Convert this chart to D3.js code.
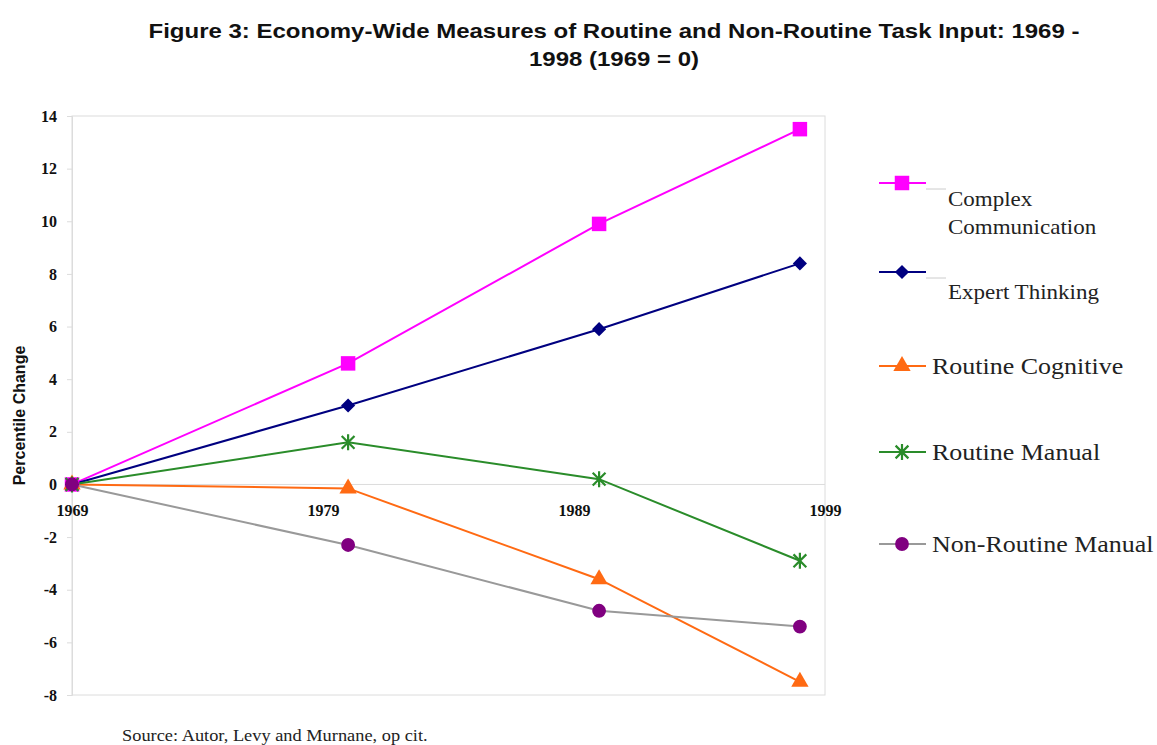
<!DOCTYPE html>
<html>
<head>
<meta charset="utf-8">
<script src="https://cdn.jsdelivr.net/npm/d3@7"></script>
<style>
  html, body { margin: 0; padding: 0; background: #fff; }
  svg { display: block; }
</style>
</head>
<body>
<svg id="chart" width="1157" height="745"></svg>
<script>
// ---- data ----
const years = [1969, 1980, 1990, 1998];
const xTickYears = [1969, 1979, 1989, 1999];
const yTicks = [-8, -6, -4, -2, 0, 2, 4, 6, 8, 10, 12, 14];
const seriesNames = ["Complex Communication", "Expert Thinking", "Routine Cognitive", "Routine Manual", "Non-Routine Manual"];
const complexCommunication = [0, 4.6, 9.9, 13.5];
const expertThinking = [0, 3.0, 5.9, 8.4];
const routineCognitive = [0, -0.15, -3.6, -7.5];
const routineManual = [0, 1.6, 0.2, -2.9];
const nonRoutineManual = [0, -2.3, -4.8, -5.4];
const titleLines = ["Figure 3: Economy-Wide Measures of Routine and Non-Routine Task Input: 1969 -", "1998 (1969 = 0)"];
const yTitle = "Percentile Change";
const sourceText = "Source: Autor, Levy and Murnane, op cit.";

const seriesValues = [complexCommunication, expertThinking, routineCognitive, routineManual, nonRoutineManual];

// Excel-style star marker: X plus vertical bar
const symbolStar = {
  draw(ctx, size) {
    const r = Math.sqrt(size) / 2;
    const d = r * 0.8;
    ctx.moveTo(0, -r); ctx.lineTo(0, r);
    ctx.moveTo(-d, -d); ctx.lineTo(d, d);
    ctx.moveTo(-d, d); ctx.lineTo(d, -d);
  }
};

const styles = [
  { line: "#ff00ff", fill: "#ff00ff", sym: d3.symbolSquare, size: 210, stroke: false, rot: 0 },
  { line: "#000080", fill: "#000080", sym: d3.symbolSquare, size: 100, stroke: false, rot: 45 },
  { line: "#ff6a13", fill: "#ff6a13", sym: d3.symbolTriangle, size: 130, stroke: false, rot: 0 },
  { line: "#2a8c2a", fill: "#2a8c2a", sym: symbolStar, size: 256, stroke: true, rot: 0 },
  { line: "#999999", fill: "#800080", sym: d3.symbolCircle, size: 150, stroke: false, rot: 0 }
];

const svg = d3.select("#chart");
const x = d3.scaleLinear().domain([1969, 1999]).range([72, 825]);
const y = d3.scaleLinear().domain([-8, 14]).range([695, 116]);

const serif = "Liberation Serif, Times New Roman, serif";
const sans = "Liberation Sans, Arial, sans-serif";

function stretchedText(parent, tx, ty, sx, txt, size, opts = {}) {
  return parent.append("text")
    .attr("transform", `translate(${tx},${ty}) scale(${sx},1)`)
    .attr("text-anchor", opts.anchor || "start")
    .attr("font-family", opts.family || serif)
    .attr("font-weight", opts.weight || "normal")
    .attr("font-size", size)
    .attr("fill", opts.fill || "#222")
    .text(txt);
}

// title
titleLines.forEach((t, i) => {
  stretchedText(svg, 614, 38 + i * 28, 1.2, t, 20, { anchor: "middle", family: sans, weight: "bold", fill: "#111" });
});

// plot border
svg.append("rect")
  .attr("x", x(1969)).attr("y", y(14))
  .attr("width", x(1999) - x(1969)).attr("height", y(-8) - y(14))
  .attr("fill", "none").attr("stroke", "#dcdcdc").attr("stroke-width", 1);

// zero line
svg.append("line")
  .attr("x1", x(1969)).attr("x2", x(1999)).attr("y1", y(0)).attr("y2", y(0))
  .attr("stroke", "#dcdcdc").attr("stroke-width", 1);

// y axis
const yAxis = svg.append("g").attr("transform", `translate(${x(1969)},0)`)
  .call(d3.axisLeft(y).tickValues(yTicks).tickSize(5).tickPadding(10).tickFormat(d3.format("d")));
yAxis.select(".domain").attr("stroke", "#dcdcdc");
yAxis.selectAll(".tick line").attr("stroke", "#dcdcdc");
yAxis.selectAll(".tick text")
  .attr("font-family", serif)
  .attr("font-weight", "bold").attr("font-size", 16).attr("fill", "#111")
  .text(d => d < 0 ? "-" + Math.abs(d) : d);

// x axis labels
const xAxis = svg.append("g").attr("transform", `translate(0,${y(0)})`)
  .call(d3.axisBottom(x).tickValues(xTickYears).tickSize(0).tickPadding(20).tickFormat(d3.format("d")));
xAxis.select(".domain").remove();
xAxis.selectAll(".tick text")
  .attr("font-family", serif)
  .attr("font-weight", "bold").attr("font-size", 16).attr("fill", "#111");

// y title
svg.append("text")
  .attr("transform", `translate(25,${(y(14) + y(-8)) / 2 + 10}) rotate(-90)`)
  .attr("text-anchor", "middle")
  .attr("font-family", sans)
  .attr("font-weight", "bold").attr("font-size", 16).attr("fill", "#111")
  .text(yTitle);

// lines
const line = d3.line().x((d, i) => x(years[i])).y(d => y(d));
seriesValues.forEach((vals, si) => {
  svg.append("path").datum(vals)
    .attr("d", line).attr("fill", "none")
    .attr("stroke", styles[si].line).attr("stroke-width", 2);
});

function drawSymbol(g, st, cx, cy) {
  const p = g.append("path")
    .attr("d", d3.symbol().type(st.sym).size(st.size)())
    .attr("transform", `translate(${cx},${cy}) rotate(${st.rot})`);
  if (st.stroke) p.attr("fill", "none").attr("stroke", st.fill).attr("stroke-width", 2.2);
  else p.attr("fill", st.fill);
}

// markers
seriesValues.forEach((vals, si) => {
  const g = svg.append("g");
  vals.forEach((v, i) => drawSymbol(g, styles[si], x(years[i]), y(v)));
});

// legend
const legendY = [183, 272, 366, 452, 544];
const legendLabels = [["Complex", "Communication"], ["Expert Thinking"], ["Routine Cognitive"], ["Routine Manual"], ["Non-Routine Manual"]];
seriesNames.forEach((name, si) => {
  const g = svg.append("g");
  const ly = legendY[si];
  g.append("line").attr("x1", 879).attr("x2", 926).attr("y1", ly).attr("y2", ly)
    .attr("stroke", styles[si].line).attr("stroke-width", 2);
  drawSymbol(g, styles[si], 902, ly);
  if (si < 2) {
    g.append("line").attr("x1", 926).attr("x2", 946).attr("y1", ly + 6).attr("y2", ly + 6)
      .attr("stroke", "#cccccc").attr("stroke-width", 1);
    legendLabels[si].forEach((t, i) => {
      stretchedText(g, 948, ly + (si === 0 ? 23 : 27) + i * 28, 1.15, t, 20);
    });
  } else {
    stretchedText(g, 932, ly + 8, 1.13, legendLabels[si][0], 23);
  }
});

// source
stretchedText(svg, 122, 741, 1.08, sourceText, 17);
</script>
</body>
</html>
